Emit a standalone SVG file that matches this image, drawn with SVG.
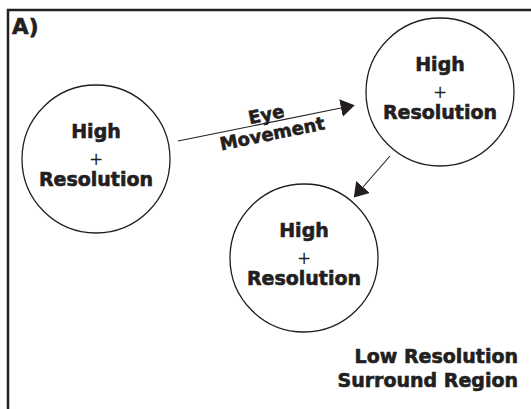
<svg xmlns="http://www.w3.org/2000/svg" width="531" height="409" viewBox="0 0 531 409">
<style>
  .b { font-family: "DejaVu Sans", "Liberation Sans", sans-serif; font-weight: bold; fill: #231f20; stroke: #231f20; stroke-width: 0.6; }
  .big { font-size: 19px; }
  .plus { font-family: "DejaVu Sans", "Liberation Sans", sans-serif; font-size: 17px; fill: #231f20; }
  .lbl { font-size: 18px; }
  .node { fill: none; stroke: #231f20; stroke-width: 1.3; }
  .conn { stroke: #231f20; stroke-width: 1.1; fill: none; }
</style>
<defs>
  <marker id="ah" viewBox="0 0 14 18" refX="0" refY="9" markerWidth="14" markerHeight="18" markerUnits="userSpaceOnUse" orient="auto">
    <path d="M0,0 L14,9 L0,18 Z" fill="#231f20"/>
  </marker>
</defs>
<rect width="531" height="409" fill="#ffffff"/>
<path d="M8,409 V10 H531" fill="none" stroke="#231f20" stroke-width="2.5"/>
<text class="b" x="12" y="34" font-size="21.5">A)</text>
<g id="node1">
  <circle class="node" cx="96" cy="159" r="74"/>
  <text class="b big" x="96" y="138" text-anchor="middle">High</text>
  <text class="plus" x="96" y="165" text-anchor="middle">+</text>
  <text class="b big" x="96" y="186" text-anchor="middle">Resolution</text>
</g>
<g id="node2">
  <circle class="node" cx="440" cy="92" r="74"/>
  <text class="b big" x="440" y="71" text-anchor="middle">High</text>
  <text class="plus" x="440" y="98" text-anchor="middle">+</text>
  <text class="b big" x="440" y="119" text-anchor="middle">Resolution</text>
</g>
<g id="node3">
  <circle class="node" cx="304" cy="258" r="74"/>
  <text class="b big" x="304" y="237" text-anchor="middle">High</text>
  <text class="plus" x="304" y="264" text-anchor="middle">+</text>
  <text class="b big" x="304" y="285" text-anchor="middle">Resolution</text>
</g>
<g id="connectors">
  <line class="conn" x1="178" y1="141" x2="341" y2="108" marker-end="url(#ah)"/>
  <line class="conn" x1="390" y1="156" x2="363" y2="187" marker-end="url(#ah)"/>
</g>
<g id="eye-movement-label" transform="translate(268,123) rotate(-11.5)">
  <text class="b lbl" x="0" y="-2.5" text-anchor="middle">Eye</text>
  <text class="b lbl" x="2" y="17.5" text-anchor="middle">Movement</text>
</g>
<g id="surround-label">
  <text class="b" font-size="19" x="518" y="363" text-anchor="end">Low Resolution</text>
  <text class="b" font-size="19" x="518" y="387" text-anchor="end">Surround Region</text>
</g>
</svg>
